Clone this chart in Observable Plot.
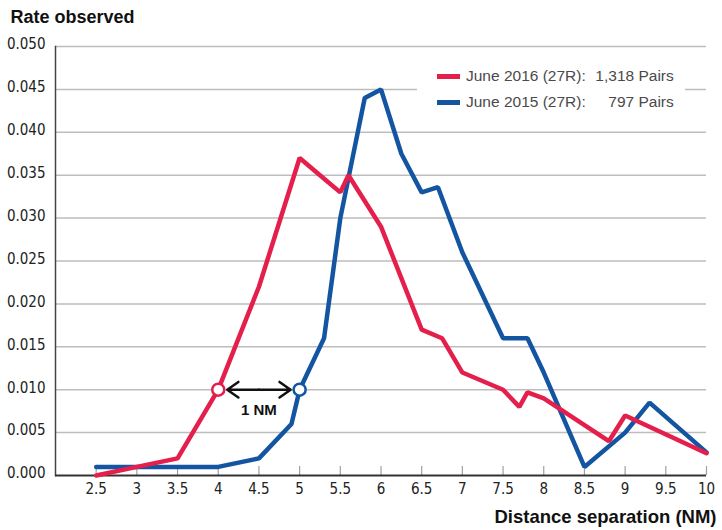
<!DOCTYPE html>
<html>
<head>
<meta charset="utf-8">
<script src="https://cdn.jsdelivr.net/npm/d3@7"></script>
<script src="https://cdn.jsdelivr.net/npm/@observablehq/plot@0.6"></script>
<style>
  html, body { margin: 0; padding: 0; background: #fff; }
  #wrap { position: relative; width: 722px; height: 530px; }
  #legend {
    position: absolute; left: 417px; top: 60px; width: 268px; height: 60px;
    background: #fff; font-family: "Liberation Sans", Arial, sans-serif; font-size: 15.5px; color: #4a4a4a;
  }
  .row { position: absolute; left: 20px; height: 20px; display: flex; align-items: center; }
  .sw { width: 23px; height: 5px; margin-right: 6px; }
  .lab { white-space: pre; }
  .val { display: inline-block; width: 88px; text-align: right; }
</style>
</head>
<body>
<div id="wrap"></div>
<script>
const xTicks = [2.5, 3, 3.5, 4, 4.5, 5, 5.5, 6, 6.5, 7, 7.5, 8, 8.5, 9, 9.5, 10];
const yTicks = [0, 0.005, 0.010, 0.015, 0.020, 0.025, 0.030, 0.035, 0.040, 0.045, 0.050];

const series2016Label = "June 2016 (27R):";
const series2016Pairs = "1,318 Pairs";
const series2016X = [2.5, 3, 3.5, 4, 4.5, 5, 5.25, 5.5, 5.6, 6, 6.5, 6.75, 7, 7.5, 7.7, 7.8, 8, 8.8, 9, 10];
const series2016Y = [0.000, 0.001, 0.002, 0.010, 0.022, 0.037, 0.035, 0.033, 0.035, 0.029, 0.017, 0.016, 0.012, 0.010, 0.008, 0.0097, 0.009, 0.004, 0.007, 0.0026];

const series2015Label = "June 2015 (27R):";
const series2015Pairs = "797 Pairs";
const series2015X = [2.5, 3, 3.5, 4, 4.5, 4.9, 5, 5.3, 5.5, 5.8, 6, 6.25, 6.5, 6.7, 7, 7.5, 7.8, 8, 8.5, 9, 9.3, 10];
const series2015Y = [0.001, 0.001, 0.001, 0.001, 0.002, 0.006, 0.010, 0.016, 0.030, 0.044, 0.045, 0.0375, 0.033, 0.0336, 0.026, 0.016, 0.016, 0.012, 0.001, 0.005, 0.0085, 0.0027];

const markerX = [4, 5];
const markerY = 0.010;
const markerText = "1 NM";

const red = "#e41f4c";
const blue = "#1455a2";

const d2016 = series2016X.map((x, i) => ({x, y: series2016Y[i]}));
const d2015 = series2015X.map((x, i) => ({x, y: series2015Y[i]}));
const mid = (markerX[0] + markerX[1]) / 2;

const narrow = "'DejaVu Sans Condensed', sans-serif";

const chart = Plot.plot({
  width: 722,
  height: 530,
  marginLeft: 55,
  marginRight: 16,
  marginTop: 46,
  marginBottom: 55,
  style: {fontFamily: "'Liberation Sans', Arial, sans-serif", background: "#fff", overflow: "visible"},
  x: {domain: [2, 10]},
  y: {domain: [0, 0.05]},
  marks: [
    Plot.gridY(yTicks.filter(d => d > 0), {stroke: "#bdbdbd", strokeOpacity: 1, strokeWidth: 1.5}),
    Plot.ruleX(xTicks, {insetTop: 420, stroke: "#a0a0a0", strokeWidth: 1.2}),
    Plot.frame({anchor: "left", stroke: "#444", strokeWidth: 1.5}),
    Plot.ruleY([0], {stroke: "#333", strokeWidth: 2}),
    Plot.axisY({ticks: yTicks, tickSize: 0, tickPadding: 10, tickFormat: d3.format(".3f"), label: null,
      fontSize: 15, fontFamily: narrow, fill: "#222", dy: -2}),
    Plot.axisX({ticks: xTicks, tickSize: 0, tickPadding: 8, tickFormat: d => String(d), label: null,
      fontSize: 15, fontFamily: narrow, fill: "#222"}),
    Plot.line(d2015, {x: "x", y: "y", stroke: blue, strokeWidth: 4.5, strokeLinejoin: "miter"}),
    Plot.line(d2016, {x: "x", y: "y", stroke: red, strokeWidth: 4.5, strokeLinejoin: "miter"}),
    Plot.arrow([{x1: mid, x2: markerX[0]}, {x1: mid, x2: markerX[1]}], {
      x1: "x1", x2: "x2", y1: () => markerY, y2: () => markerY,
      insetEnd: 9, stroke: "#111", strokeWidth: 2.5, headLength: 11, headAngle: 70
    }),
    Plot.dot([{x: markerX[0], c: red}, {x: markerX[1], c: blue}], {
      x: "x", y: () => markerY, r: 6, fill: "#fff", stroke: "c", strokeWidth: 2.5
    }),
    Plot.text([markerText], {x: () => mid, y: () => markerY, dy: 20, fontWeight: "bold", fontSize: 15, fill: "#111"}),
    Plot.text(["Rate observed"], {frameAnchor: "top-left", dx: -45, dy: -29, textAnchor: "start", lineAnchor: "middle",
      fontWeight: "bold", fontSize: 18, fill: "#111"}),
    Plot.text(["Distance separation (NM)"], {frameAnchor: "bottom-right", dx: 10, dy: 42, textAnchor: "end", lineAnchor: "middle",
      fontWeight: "bold", fontSize: 18.5, fill: "#111"})
  ]
});

const wrap = document.getElementById("wrap");
wrap.appendChild(chart);

const legend = document.createElement("div");
legend.id = "legend";
legend.innerHTML = `
  <div class="row" style="top:6px"><span class="sw" style="background:${red}"></span><span class="lab">${series2016Label}</span><span class="val">${series2016Pairs}</span></div>
  <div class="row" style="top:32px"><span class="sw" style="background:${blue}"></span><span class="lab">${series2015Label}</span><span class="val">${series2015Pairs}</span></div>`;
wrap.appendChild(legend);
</script>
</body>
</html>
